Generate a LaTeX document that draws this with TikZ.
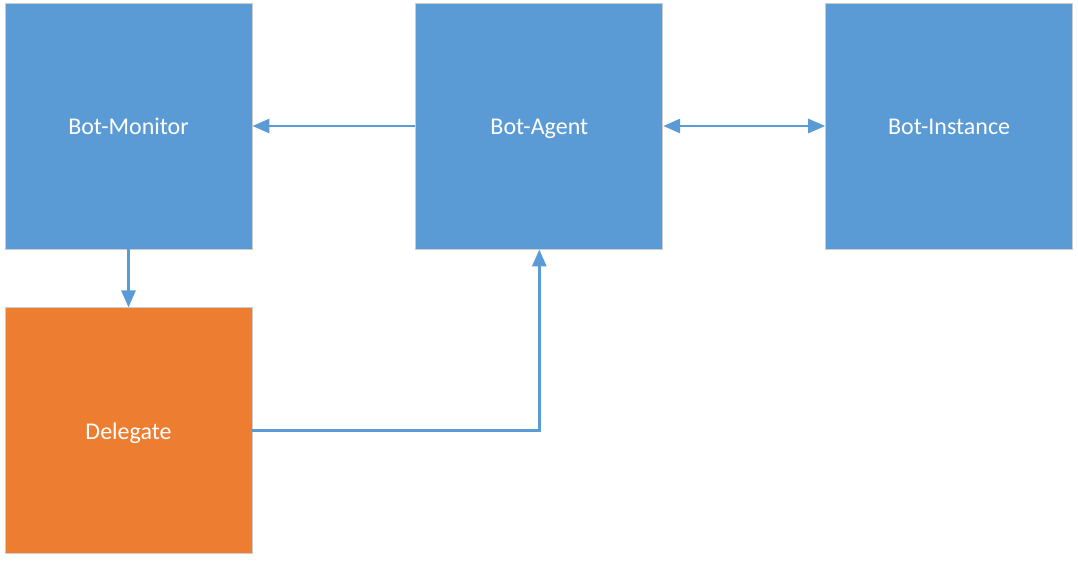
\documentclass[tikz,border=0pt]{standalone}
\usepackage{fontspec}
\setmainfont{Carlito}
\usepackage{tikz}
\usetikzlibrary{positioning, calc, arrows.meta}
\definecolor{boxblue}{HTML}{5B9BD5}
\definecolor{boxorange}{HTML}{ED7D31}
\tikzset{block/.style={draw=black!20, line width=0.8pt, fill=boxblue, text=white, minimum width=247pt, minimum height=246pt, inner sep=0pt, text height=18pt, text depth=0.8pt, font=\fontsize{24}{28}\selectfont}}
\tikzset{link/.style={draw=boxblue, line width=2.8pt, -{Triangle[length=17pt, width=14pt]}}}

\begin{document}
\begin{tikzpicture}[x=1pt, y=-1pt]

      \useasboundingbox (0,0) rectangle (1078,563);

      % BLOCKS

      \node[block] (monitor) at (128.5,126) {Bot-Monitor};
      \node[block, anchor=west] (agent) at ($(monitor.east)+(163pt,0)$) {Bot-Agent};
      \node[block, anchor=west] (instance) at ($(agent.east)+(162pt,0)$) {Bot-Instance};
      \node[block, fill=boxorange, anchor=north] (delegate) at ($(monitor.south)-(0,58pt)$) {Delegate};

      % ARCS

      \draw[link] (agent.west) -- (monitor.east);
      \draw[link, {Triangle[length=17pt, width=14pt]}-{Triangle[length=17pt, width=14pt]}] (agent.east) -- (instance.west);
      \draw[link] (monitor.south) -- (delegate.north);
      \draw[link] (delegate.east) -| (agent.south);

\end{tikzpicture}
\end{document}
